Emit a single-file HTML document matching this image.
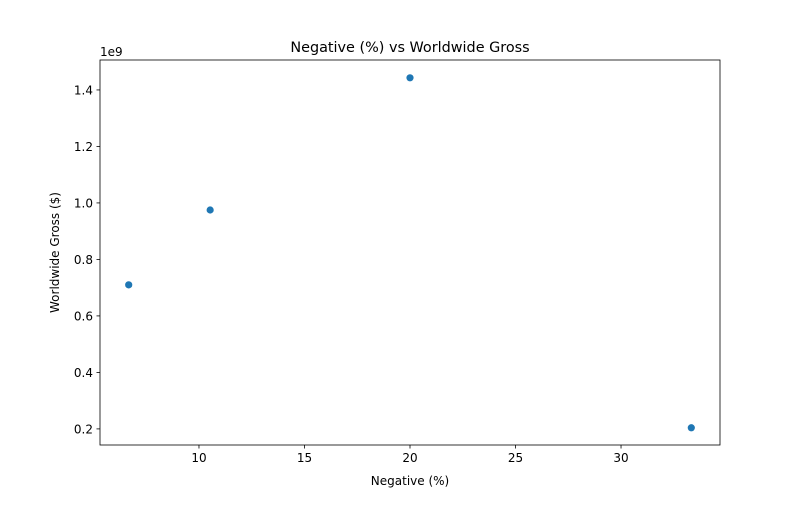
<!DOCTYPE html>
<html><head><meta charset="utf-8"><style>
body{margin:0;background:#fff;}
svg text{font-family:"DejaVu Sans","Liberation Sans",sans-serif;fill:#000;}
</style></head><body>
<svg id="chart" width="800" height="500" xmlns="http://www.w3.org/2000/svg">
<rect width="800" height="500" fill="#fff"/>
<text x="410" y="52" font-size="14.4" text-anchor="middle">Negative (%) vs Worldwide Gross</text>
<text x="100" y="56" font-size="12">1e9</text>
<text x="410" y="485" font-size="12" text-anchor="middle">Negative (%)</text>
<text transform="translate(59,252.5) rotate(-90)" font-size="12" text-anchor="middle">Worldwide Gross ($)</text>
<g id="ticks"></g>
<g id="points"></g>
<rect x="100" y="60" width="620" height="385" fill="none" stroke="#000" stroke-width="0.8"/>
</svg>
<script>
const negativePct = [6.67, 10.53, 20.0, 33.33];
const grossBillions = [0.71, 0.975, 1.443, 0.204];
const xTicks = [10, 15, 20, 25, 30];
const yTicks = [0.2, 0.4, 0.6, 0.8, 1.0, 1.2, 1.4];
const yTickLabels = ["0.2","0.4","0.6","0.8","1.0","1.2","1.4"];

const X0=100,X1=720,Y0=445,Y1=60;
const xMin=5.31,xMax=34.69,yMin=0.143,yMax=1.506;
const sx=v=>X0+(v-xMin)/(xMax-xMin)*(X1-X0);
const sy=v=>Y0-(v-yMin)/(yMax-yMin)*(Y0-Y1);
const NS="http://www.w3.org/2000/svg";
const tg=document.getElementById('ticks');
const pg=document.getElementById('points');
function mk(t,a){const e=document.createElementNS(NS,t);for(const k in a)e.setAttribute(k,a[k]);return e;}
xTicks.forEach(v=>{
  const x=sx(v);
  const l=mk('line',{x1:x,x2:x,y1:Y0,y2:Y0+3.5,stroke:'#000','stroke-width':0.8});
  
  
  tg.appendChild(l);
  const t=mk('text',{x:x,y:Y0+17,'font-size':12,'text-anchor':'middle'});
  t.textContent=String(v);
  
  
  tg.appendChild(t);
});
yTicks.forEach((v,i)=>{
  const y=sy(v);
  const l=mk('line',{x1:X0-3.5,x2:X0,y1:y,y2:y,stroke:'#000','stroke-width':0.8});
  
  
  tg.appendChild(l);
  const t=mk('text',{x:X0-7,y:y+4.5,'font-size':12,'text-anchor':'end'});
  t.textContent=yTickLabels[i];
  
  
  tg.appendChild(t);
});
negativePct.forEach((v,i)=>{
  const c=mk('circle',{cx:sx(v),cy:sy(grossBillions[i]),r:3.6,fill:'#1f77b4'});
  
  
  pg.appendChild(c);
});
</script>
</body></html>
